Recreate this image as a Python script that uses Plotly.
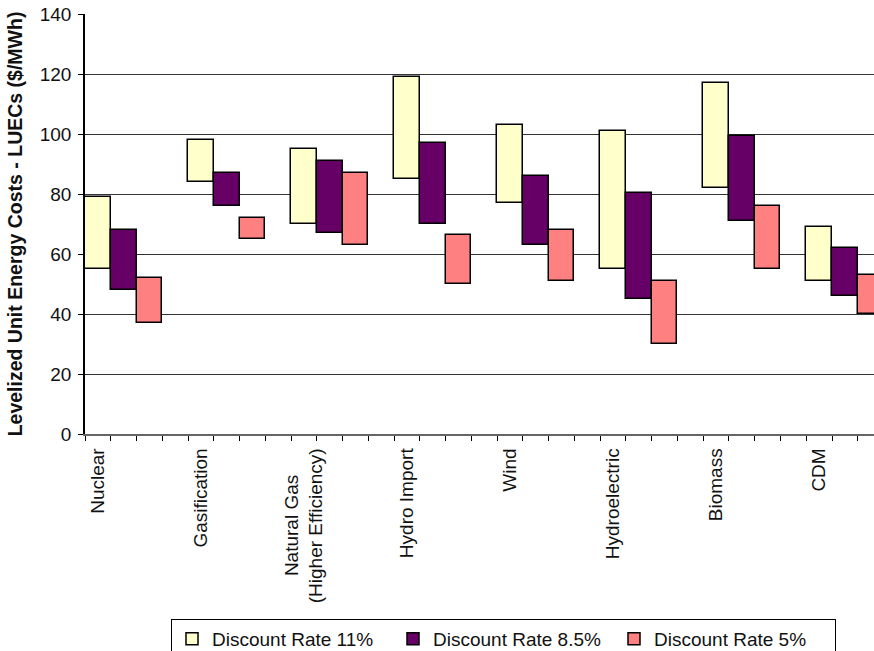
import plotly.graph_objects as go

# Technology groups shown along the category axis
categories = ["Nuclear", "Gasification",
              "Natural Gas\u00a0\u00a0\u00a0\u00a0\u00a0<br>(Higher Efficiency)",
              "Hydro Import", "Wind", "Hydroelectric", "Biomass", "CDM"]

# Low / high LUEC ranges ($/MWh) per discount rate
low_11 = [55, 84, 70, 85, 77, 55, 82, 51]
high_11 = [79, 98, 95, 119, 103, 101, 117, 69]
low_85 = [48, 76, 67, 70, 63, 45, 71, 46]
high_85 = [68, 87, 91, 97, 86, 80.5, 99.5, 62]
low_5 = [37, 65, 63, 50, 51, 30, 55, 40]
high_5 = [52, 72, 87, 66.5, 68, 51, 76, 53]

series = [
    ("Discount Rate 11%", low_11, high_11, "#FFFFCC"),
    ("Discount Rate 8.5%", low_85, high_85, "#660066"),
    ("Discount Rate 5%", low_5, high_5, "#FF8080"),
]

SLOTS = 4  # three bars plus one empty slot per group

fig = go.Figure()
for k, (name, lo, hi, color) in enumerate(series):
    xs = [SLOTS * i + k for i in range(len(categories))]
    fig.add_trace(go.Bar(
        x=xs,
        y=[h - l for l, h in zip(lo, hi)],
        base=lo,
        name=name,
        width=1,
        marker=dict(color=color, line=dict(color="#000000", width=1.5)),
    ))

font_family = "Arial, Liberation Sans, sans-serif"
FS = 19

fig.update_layout(
    width=874, height=651,
    margin=dict(l=85, r=0, t=14, b=217),
    plot_bgcolor="white", paper_bgcolor="white",
    barmode="overlay", bargap=0,
    font=dict(family=font_family, size=FS, color="#111"),
    showlegend=True,
    legend=dict(
        orientation="h",
        xref="container", x=171 / 874, xanchor="left",
        yref="container", y=(651 - 619) / 651, yanchor="top",
        bordercolor="#000", borderwidth=1,
        font=dict(size=FS, color="#111"),
        entrywidth=176, entrywidthmode="pixels",
        itemclick=False,
    ),
)

fig.update_xaxes(
    range=[-0.5, 30.13],
    tickmode="array",
    tickvals=[SLOTS * i for i in range(len(categories))],
    ticktext=categories,
    tickangle=-90,
    ticks="outside", ticklen=5, tickcolor="rgba(0,0,0,0)",
    tickfont=dict(size=FS, color="#111"),
    showgrid=False, zeroline=False,
    showline=True, linecolor="#666", linewidth=1.5,
    minor=dict(ticks="outside", tick0=-0.5, dtick=1, ticklen=5,
               tickcolor="#000", tickwidth=1, showgrid=False),
)

fig.update_yaxes(
    range=[0, 140], dtick=20,
    showgrid=True, gridcolor="#333", gridwidth=1,
    zeroline=False,
    showline=True, linecolor="#000", linewidth=1.5,
    ticks="outside", ticklen=5, tickcolor="#000",
    ticklabelstandoff=3,
    tickfont=dict(size=FS, color="#111"),
    title=dict(text="<b>Levelized Unit Energy Costs - LUECs ($/MWh)</b>",
               font=dict(size=19.5, color="#111"), standoff=12),
)

fig.write_html("out.html")
